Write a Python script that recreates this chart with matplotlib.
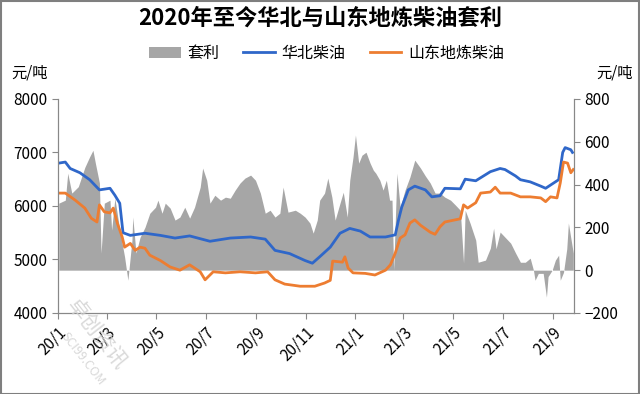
import pandas as pd
import matplotlib
matplotlib.use("Agg")
import matplotlib.pyplot as plt
from matplotlib.patches import Rectangle

plt.rcParams['font.family'] = ['Noto Sans CJK SC', 'DejaVu Sans']

# 华北柴油 (元/吨)
hb_dates = ['2020-01-02', '2020-01-10', '2020-01-16', '2020-01-28', '2020-02-09', '2020-02-21',
            '2020-03-05', '2020-03-11', '2020-03-17', '2020-03-21', '2020-03-30', '2020-04-17',
            '2020-05-06', '2020-05-24', '2020-06-11', '2020-07-06', '2020-07-31', '2020-08-25',
            '2020-09-12', '2020-09-24', '2020-10-12', '2020-10-31', '2020-11-09', '2020-11-18',
            '2020-12-01', '2020-12-13', '2020-12-25', '2021-01-07', '2021-01-19', '2021-02-07',
            '2021-02-19', '2021-02-23', '2021-02-27', '2021-03-07', '2021-03-15', '2021-03-28',
            '2021-04-05', '2021-04-15', '2021-04-21', '2021-05-10', '2021-05-16', '2021-05-29',
            '2021-06-16', '2021-06-28', '2021-07-04', '2021-07-17', '2021-07-23', '2021-08-04',
            '2021-08-17', '2021-08-23', '2021-09-04', '2021-09-08', '2021-09-13', '2021-09-16',
            '2021-09-23', '2021-09-25']
hb_vals = [6800, 6820, 6700, 6620, 6490, 6300,
           6330, 6200, 6050, 5500, 5450, 5490,
           5450, 5400, 5440, 5340, 5400, 5420,
           5380, 5170, 5110, 4980, 4930, 5050,
           5230, 5490, 5580, 5530, 5420, 5420,
           5460, 5740, 5980, 6300, 6370, 6300,
           6170, 6190, 6330, 6320, 6500, 6470,
           6640, 6700, 6680, 6560, 6490, 6450,
           6370, 6330, 6450, 6490, 7000, 7090,
           7050, 7000]

# 山东地炼柴油 (元/吨)
sd_dates = ['2020-01-02', '2020-01-10', '2020-01-22', '2020-02-03', '2020-02-11', '2020-02-18',
            '2020-02-21', '2020-02-27', '2020-03-05', '2020-03-09', '2020-03-14', '2020-03-20',
            '2020-03-23', '2020-03-30', '2020-04-05', '2020-04-11', '2020-04-17', '2020-04-23',
            '2020-05-06', '2020-05-18', '2020-05-30', '2020-06-11', '2020-06-24', '2020-06-30',
            '2020-07-10', '2020-07-25', '2020-08-12', '2020-08-31', '2020-09-15', '2020-09-24',
            '2020-10-06', '2020-10-25', '2020-11-12', '2020-11-24', '2020-12-01', '2020-12-04',
            '2020-12-16', '2020-12-19', '2020-12-23', '2020-12-29', '2021-01-13', '2021-01-25',
            '2021-02-07', '2021-02-13', '2021-02-19', '2021-02-25', '2021-03-03', '2021-03-09',
            '2021-03-15', '2021-03-22', '2021-04-03', '2021-04-09', '2021-04-15', '2021-04-21',
            '2021-05-10', '2021-05-14', '2021-05-19', '2021-05-29', '2021-06-04', '2021-06-16',
            '2021-06-22', '2021-06-28', '2021-07-11', '2021-07-23', '2021-08-04', '2021-08-17',
            '2021-08-23', '2021-08-29', '2021-09-06', '2021-09-10', '2021-09-14', '2021-09-19',
            '2021-09-23', '2021-09-26']
sd_vals = [6240, 6240, 6110, 5960, 5770, 5700,
           6020, 5890, 5870, 5960, 5680, 5420,
           5230, 5300, 5170, 5230, 5210, 5080,
           4980, 4860, 4800, 4900, 4770, 4620,
           4770, 4750, 4770, 4750, 4770, 4620,
           4540, 4500, 4500, 4560, 4610, 4970,
           4950, 5050, 4840, 4750, 4740, 4710,
           4800, 4900, 5120, 5400, 5460, 5680,
           5740, 5640, 5510, 5470, 5610, 5700,
           5760, 6020, 5960, 6060, 6240, 6260,
           6350, 6240, 6240, 6170, 6170, 6150,
           6080, 6170, 6150, 6430, 6820, 6800,
           6620, 6680]

# 套利 (元/吨, right axis)
tl_dates = ['2020-01-02', '2020-01-10', '2020-01-13', '2020-01-18', '2020-01-26', '2020-02-03',
            '2020-02-09', '2020-02-13', '2020-02-16', '2020-02-21', '2020-02-23', '2020-02-27',
            '2020-03-05', '2020-03-07', '2020-03-11', '2020-03-17', '2020-03-23', '2020-03-27',
            '2020-04-01', '2020-04-02', '2020-04-06', '2020-04-11', '2020-04-17', '2020-04-23',
            '2020-04-30', '2020-05-03', '2020-05-08', '2020-05-12', '2020-05-18', '2020-05-24',
            '2020-05-30', '2020-06-05', '2020-06-11', '2020-06-17', '2020-06-24', '2020-06-27',
            '2020-07-02', '2020-07-06', '2020-07-12', '2020-07-19', '2020-07-25', '2020-07-31',
            '2020-08-06', '2020-08-12', '2020-08-18', '2020-08-25', '2020-08-31', '2020-09-06',
            '2020-09-12', '2020-09-18', '2020-09-24', '2020-09-30', '2020-10-04', '2020-10-10',
            '2020-10-19', '2020-10-25', '2020-10-31', '2020-11-06', '2020-11-10', '2020-11-15',
            '2020-11-18', '2020-11-24', '2020-11-28', '2020-12-03', '2020-12-07', '2020-12-13',
            '2020-12-17', '2020-12-22', '2020-12-25', '2020-12-29', '2021-01-01', '2021-01-05',
            '2021-01-09', '2021-01-14', '2021-01-19', '2021-01-23', '2021-01-26', '2021-01-31',
            '2021-02-04', '2021-02-08', '2021-02-12', '2021-02-15', '2021-02-17', '2021-02-21',
            '2021-02-25', '2021-03-03', '2021-03-09', '2021-03-15', '2021-03-22', '2021-03-28',
            '2021-04-03', '2021-04-09', '2021-04-15', '2021-04-21', '2021-04-28', '2021-05-04',
            '2021-05-10', '2021-05-14', '2021-05-16', '2021-05-22', '2021-05-29', '2021-06-01',
            '2021-06-10', '2021-06-16', '2021-06-20', '2021-06-23', '2021-06-28', '2021-07-04',
            '2021-07-11', '2021-07-17', '2021-07-23', '2021-07-29', '2021-08-04', '2021-08-08',
            '2021-08-10', '2021-08-14', '2021-08-20', '2021-08-24', '2021-08-26', '2021-08-31',
            '2021-09-04', '2021-09-08', '2021-09-10', '2021-09-14', '2021-09-18', '2021-09-20',
            '2021-09-23', '2021-09-26']
tl_vals = [313, 327, 453, 360, 390, 480,
           530, 560, 500, 407, 80, 313,
           327, 187, 336, 187, 61, -47,
           140, 248, 80, 154, 200, 266,
           294, 327, 266, 313, 290, 234,
           248, 294, 243, 294, 388, 477,
           420, 313, 350, 327, 341, 336,
           374, 407, 430, 444, 420, 360,
           266, 280, 248, 266, 388, 271,
           280, 266, 248, 220, 173, 234,
           327, 360, 430, 341, 234, 313,
           364, 248, 420, 528, 631, 500,
           537, 551, 500, 467, 453, 420,
           374, 420, 327, 327, 0, 453,
           294, 374, 435, 514, 477, 440,
           407, 360, 360, 341, 327, 304,
           280, 33, 280, 220, 140, 37,
           47, 103, 196, 100, 178, 154,
           126, 80, 37, 37, 56, 0,
           -47, -15, -15, -126, -30, 0,
           47, 70, -47, -10, 100, 220,
           150, 80]

x_ticks = pd.date_range('2020-01-01', '2021-09-01', freq='2MS')
x_labels = ['20/1', '20/3', '20/5', '20/7', '20/9', '20/11', '21/1', '21/3', '21/5', '21/7', '21/9']

fig = plt.figure(figsize=(6.4, 3.94), dpi=100)
ax = fig.add_axes([0.0906, 0.2056, 0.8064, 0.5434])
ax2 = ax.twinx()

ax2.fill_between(pd.to_datetime(tl_dates), tl_vals, 0, color='#a6a6a6', lw=0, label='套利')
ax.plot(pd.to_datetime(hb_dates), hb_vals, color='#2f67c9', lw=2, label='华北柴油')
ax.plot(pd.to_datetime(sd_dates), sd_vals, color='#ed7d31', lw=2, label='山东地炼柴油')

# lines above the grey area
ax.set_zorder(ax2.get_zorder() + 1)
ax.patch.set_visible(False)

ax.set_ylim(4000, 8000)
ax.set_yticks([4000, 5000, 6000, 7000, 8000])
ax2.set_ylim(-200, 800)
ax2.set_yticks([-200, 0, 200, 400, 600, 800])
ax2.set_yticklabels(['−200', '0', '200', '400', '600', '800'])
ax.set_xlim(pd.Timestamp('2020-01-01'), pd.Timestamp('2021-09-27'))
ax.set_xticks(x_ticks)
ax.set_xticklabels(x_labels, rotation=45, ha='right', rotation_mode='anchor')

for a in (ax, ax2):
    for s in a.spines.values():
        s.set_color('#888888')
    a.spines['top'].set_visible(False)
    a.tick_params(colors='#888888', labelcolor='black', labelsize=11, length=4)

fig.text(0.5, 0.955, '2020年至今华北与山东地炼柴油套利', ha='center', va='center',
         fontsize=16, fontweight='bold')
fig.text(0.018, 0.815, '元/吨', ha='left', va='center', fontsize=11)
fig.text(0.988, 0.815, '元/吨', ha='right', va='center', fontsize=11)

h1, l1 = ax2.get_legend_handles_labels()
h2, l2 = ax.get_legend_handles_labels()
fig.legend(h1 + h2, l1 + l2, loc='center', bbox_to_anchor=(0.51, 0.865), ncol=3,
           frameon=False, fontsize=11.5, handlelength=2.0, columnspacing=1.5, handletextpad=0.4)

# watermark
fig.text(0.15, 0.15, '卓创资讯', rotation=-52, ha='center', va='center', fontsize=15,
         color='#cfcfcf', alpha=0.8)
fig.text(0.13, 0.09, 'SCI99.COM', rotation=-52, ha='center', va='center', fontsize=9,
         color='#cfcfcf', alpha=0.8)

fig.patches.append(Rectangle((0.001, 0.001), 0.997, 0.996, transform=fig.transFigure,
                             fill=False, ec='#7f7f7f', lw=1.5))

fig.savefig('out.png', dpi=100)
